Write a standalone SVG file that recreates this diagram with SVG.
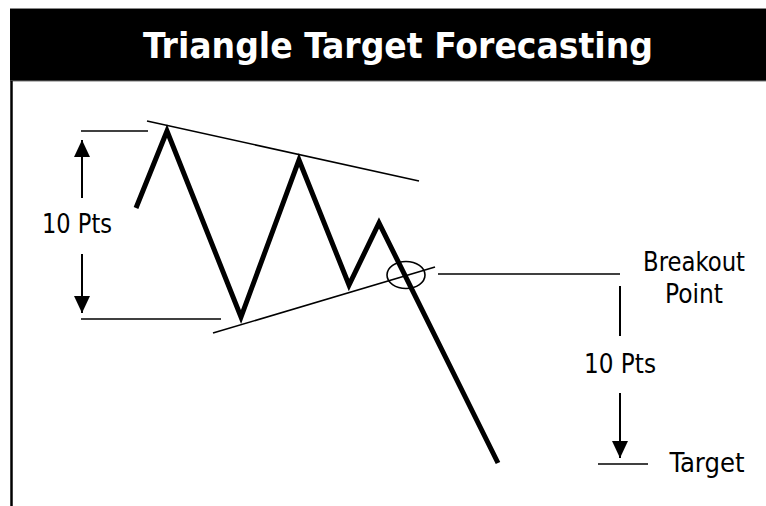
<svg xmlns="http://www.w3.org/2000/svg" width="766" height="506" viewBox="0 0 766 506">
<defs>
<style>
.lbl{font-family:"DejaVu Sans Condensed","DejaVu Sans",sans-serif;font-size:27px;fill:#000}
.thin{stroke:#000;stroke-width:1.6;fill:none}
.arr{stroke:#000;stroke-width:2;fill:none}
</style>
<marker id="ah" viewBox="0 0 17 16" refX="17" refY="8" markerWidth="17" markerHeight="16" markerUnits="userSpaceOnUse" orient="auto">
<path d="M0,0 L17,8 L0,16 Z" fill="#000"/>
</marker>
</defs>
<rect width="766" height="506" fill="#fff"/>
<g id="frame">
<rect x="10" y="8" width="756" height="73" fill="#000"/>
<line x1="10" y1="8.5" x2="766" y2="8.5" stroke="#888" stroke-width="1"/>
<line x1="10" y1="81" x2="766" y2="81" stroke="#777" stroke-width="1"/>
<line x1="11.5" y1="81" x2="11.5" y2="506" stroke="#000" stroke-width="2.5"/>
<text x="398" y="58" text-anchor="middle" textLength="510" lengthAdjust="spacingAndGlyphs" font-family="'DejaVu Sans Condensed','DejaVu Sans',sans-serif" font-weight="bold" font-size="36" fill="#fff">Triangle Target Forecasting</text>
</g>
<g id="price">
<polyline points="136,208 167,131 241,317 299,160 349,285 379,223 498,463" fill="none" stroke="#000" stroke-width="5" stroke-linejoin="miter"/>
</g>
<g id="trendlines">
<line class="thin" x1="147" y1="121" x2="419" y2="181"/>
<line class="thin" x1="213" y1="333" x2="435" y2="267"/>
<ellipse cx="406" cy="275" rx="19" ry="13.5" class="thin"/>
</g>
<g id="connectors">
<line class="thin" x1="81" y1="131" x2="148" y2="131"/>
<line class="thin" x1="81" y1="319" x2="221" y2="319"/>
<line class="arr" x1="82" y1="198" x2="82" y2="140" marker-end="url(#ah)"/>
<line class="arr" x1="82" y1="254" x2="82" y2="313" marker-end="url(#ah)"/>
<line class="thin" x1="438" y1="274" x2="620" y2="274"/>
<line class="arr" x1="620" y1="286" x2="620" y2="336"/>
<line class="arr" x1="620" y1="393" x2="620" y2="458" marker-end="url(#ah)"/>
<line class="thin" x1="598" y1="464" x2="648" y2="464"/>
</g>
<g id="labels">
<text class="lbl" x="77" y="233" text-anchor="middle" textLength="70" lengthAdjust="spacingAndGlyphs">10 Pts</text>
<text class="lbl" x="694" y="271" text-anchor="middle" textLength="102" lengthAdjust="spacingAndGlyphs">Breakout</text>
<text class="lbl" x="694" y="303" text-anchor="middle" textLength="58" lengthAdjust="spacingAndGlyphs">Point</text>
<text class="lbl" x="620" y="373" text-anchor="middle" textLength="72" lengthAdjust="spacingAndGlyphs">10 Pts</text>
<text class="lbl" x="707" y="472" text-anchor="middle" textLength="75" lengthAdjust="spacingAndGlyphs">Target</text>
</g>
</svg>
